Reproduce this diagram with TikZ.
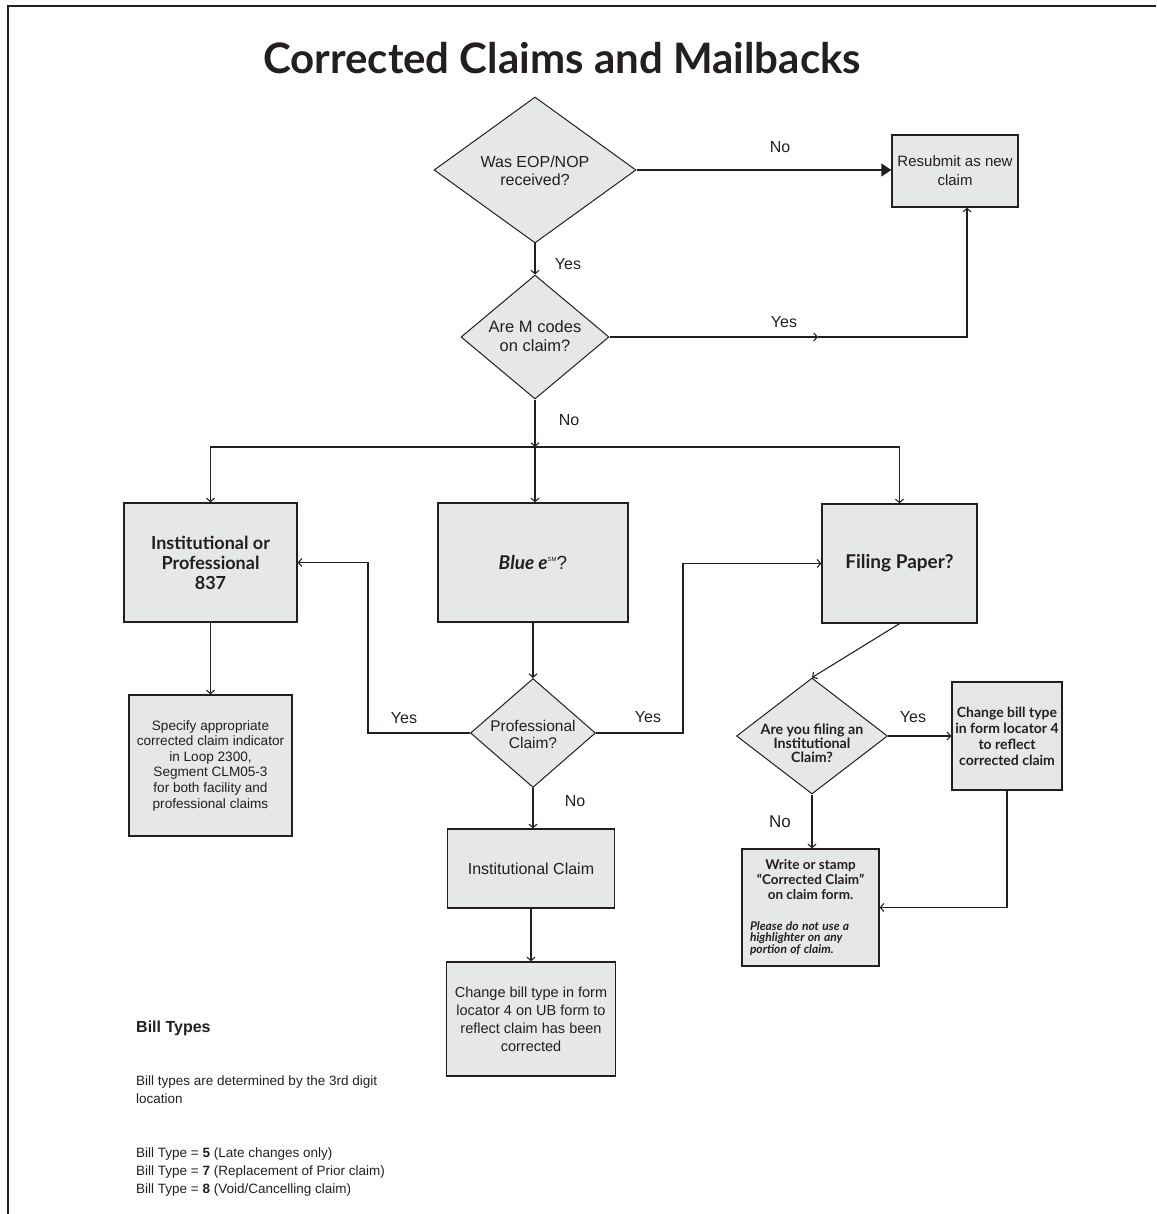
\documentclass[tikz,border=0pt]{standalone}
\usepackage{fontspec}
\setmainfont{Liberation Sans}
\newfontfamily\lato{Lato}
\usetikzlibrary{shapes.geometric,arrows.meta}
\definecolor{ink}{HTML}{231F20}
\definecolor{boxfill}{HTML}{E6E7E8}
\begin{document}
\begin{tikzpicture}[x=1pt,y=-1pt,
  every node/.style={inner sep=0pt, text=ink},
  box/.style={draw=ink, line width=1.3pt, fill=boxfill, rectangle, align=center},
  dia/.style={draw=ink, line width=1pt, fill=boxfill, diamond, inner sep=0pt},
  conn/.style={draw=ink, line width=1.1pt},
  arr/.style={conn, -{Straight Barb[length=3.5pt,width=8pt]}},
  bigarr/.style={conn, -{Triangle[length=10pt,width=13pt]}},
  lbl/.style={font=\fontsize{16}{18}\selectfont},
  dtext/.style={align=center},
]
\useasboundingbox (0,0) rectangle (1156,1214);
\draw[ink, line width=2pt] (8,1214) -- (8,6) -- (1156,6);

\node (title) at (562,58) {\lato\bfseries\fontsize{42}{46}\selectfont Corrected Claims and Mailbacks};

% top decisions
\node[dia, minimum width=202pt, minimum height=146pt] (D1) at (535,170) {};
\node[dtext, font=\fontsize{16}{18}\selectfont] (D1t) at (535,171) {Was EOP/NOP\\received?};
\node[box, minimum width=126pt, minimum height=72pt, font=\fontsize{15}{19}\selectfont] (R) at (955,171) {Resubmit as new\\claim};
\node[dia, minimum width=148pt, minimum height=124pt] (D2) at (535,337) {};
\node[dtext, font=\fontsize{16.5}{19}\selectfont] (D2t) at (535,336) {Are M codes\\on claim?};

% middle row
\node[box, minimum width=173pt, minimum height=119pt, font=\lato\bfseries\fontsize{18}{20}\selectfont] (A) at (210.5,562.5) {Institutional or\\Professional\\837};
\node[box, minimum width=190pt, minimum height=119pt, font=\fontsize{19}{21}\selectfont] (B) at (533,562.5) {{\lato\bfseries\itshape Blue e}\raisebox{8pt}{\fontsize{6}{6}\selectfont SM}?};
\node[box, minimum width=155pt, minimum height=119pt, font=\lato\bfseries\fontsize{19}{21}\selectfont] (F) at (899.5,563.5) {Filing Paper?};

\node[box, minimum width=163pt, minimum height=141pt, font=\fontsize{13.6}{15.6}\selectfont] (C) at (210.5,765.5) {Specify appropriate\\corrected claim indicator\\in Loop 2300,\\Segment CLM05-3\\for both facility and\\professional claims};

\node[dia, minimum width=125pt, minimum height=109pt] (D3) at (533,733) {};
\node[dtext, font=\fontsize{15.5}{17}\selectfont] (D3t) at (533,734.5) {Professional\\Claim?};

\node[box, minimum width=167pt, minimum height=79pt, font=\fontsize{16}{18}\selectfont] (I) at (531,868.5) {Institutional Claim};
\node[box, minimum width=169pt, minimum height=114pt, font=\fontsize{14.5}{18}\selectfont] (J) at (531,1019) {Change bill type in form\\locator 4 on UB form to\\reflect claim has been\\corrected};

% right branch
\node[dia, minimum width=151pt, minimum height=116pt] (D4) at (812,736) {};
\node[dtext, font=\lato\bfseries\fontsize{14.2}{14}\selectfont] (D4t) at (812,743) {Are you filing an\\Institutional\\Claim?};
\node[box, minimum width=110pt, minimum height=108pt, font=\lato\bfseries\fontsize{14}{16}\selectfont] (K) at (1007,736) {Change bill type\\in form locator 4\\to reflect\\corrected claim};
\node[draw=ink, line width=1.3pt, fill=boxfill, rectangle, minimum width=137pt, minimum height=117pt, text width=121pt] (W) at (810.5,907.5)
  {{\centering\lato\bfseries\fontsize{13.5}{15}\selectfont Write or stamp\\“Corrected Claim”\\on claim form.\par}\vspace{19pt}{\raggedright\lato\bfseries\itshape\fontsize{12}{11.5}\selectfont Please do not use a\\highlighter on any\\portion of claim.\par}};

% connectors
\draw[bigarr] (D1.east) -- (D1.east -| R.west);
\draw[arr] (D1.south) -- (D2.north);
\coordinate (mid) at (818,337);
\coordinate (rc) at (967,337);
\draw[arr] (D2.east) -- (mid);
\draw[arr] (mid) -- (rc) -- (rc |- R.south);
\coordinate (jn) at (535,447);
\draw[arr] (D2.south) -- (jn);
\draw[arr] (jn) -| (A.north);
\draw[arr] (jn) -| (F.north);
\draw[arr] (jn) -- (jn |- B.north);
\draw[arr] (B.south) -- (D3.north);
\coordinate (yl) at (368,733);
\coordinate (yr) at (683,733);
\draw[arr] (D3.west) -- (yl) |- (A.east);
\draw[arr] (D3.east) -- (yr) |- (F.west);
\draw[arr] (D3.south) -- (D3.south |- I.north);
\draw[arr] (I.south) -- (J.north);
\draw[arr] (A.south) -- (C.north);
\draw[arr] (F.south) -- (D4.north);
\draw[arr] (D4.east) -- (D4.east -| K.west);
\draw[arr] (D4.south) -- (D4.south |- W.north);
\draw[arr] (K.south) |- (W.east);

% labels
\node[lbl] (lNo1) at (780,147) {No};
\node[lbl] (lYes1) at (568,264) {Yes};
\node[lbl] (lYes2) at (784,322) {Yes};
\node[lbl] (lNo2) at (569,420) {No};
\node[lbl] (lYes3) at (404,718) {Yes};
\node[lbl] (lYes4) at (648,717) {Yes};
\node[lbl] (lNo3) at (575,801) {No};
\node[lbl] (lYes5) at (913,717) {Yes};
\node[lbl, font=\fontsize{17}{19}\selectfont] (lNo4) at (780,822) {No};

% bill types
\node[anchor=west, font=\bfseries\fontsize{16}{18}\selectfont] (bt) at (136,1028) {Bill Types};
\node[anchor=north west, align=left, font=\fontsize{13.5}{18}\selectfont] (btd) at (136,1076) {Bill types are determined by the 3rd digit\\location};
\node[anchor=north west, align=left, font=\fontsize{13.5}{18}\selectfont] (btl) at (136,1148) {Bill Type = \textbf{5} (Late changes only)\\Bill Type = \textbf{7} (Replacement of Prior claim)\\Bill Type = \textbf{8} (Void/Cancelling claim)};
\end{tikzpicture}
\end{document}
